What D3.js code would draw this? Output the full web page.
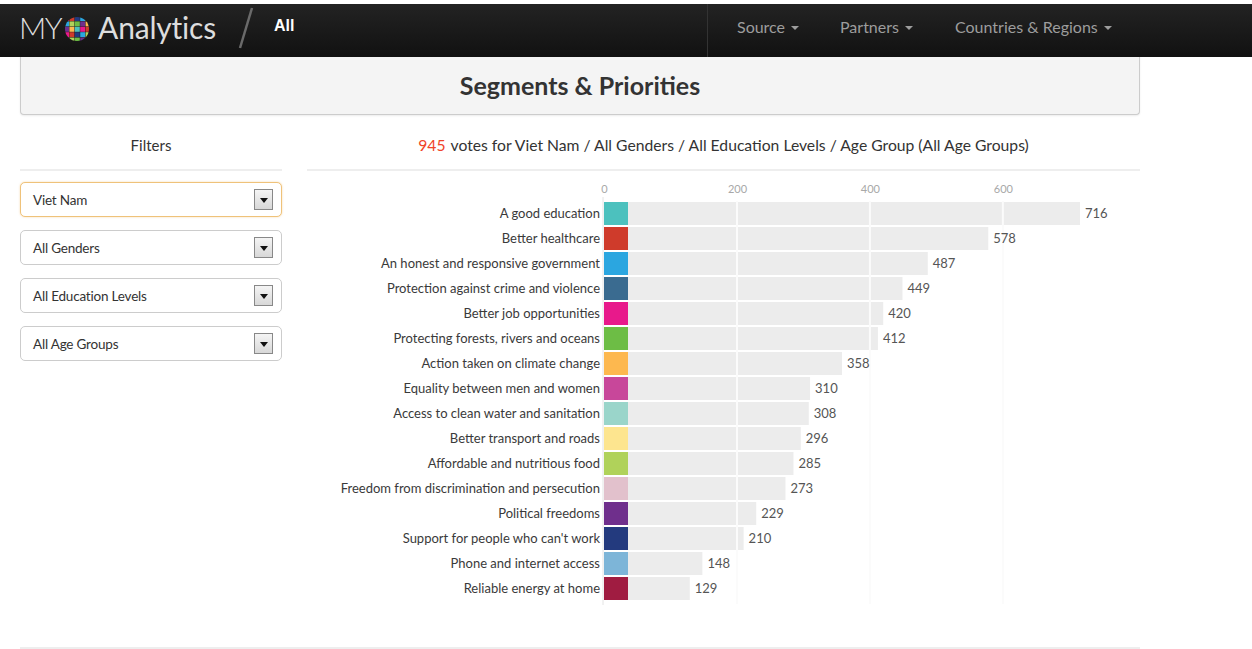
<!DOCTYPE html>
<html>
<head>
<meta charset="utf-8">
<script src="https://cdn.jsdelivr.net/npm/d3@7"></script>
<style>
  html, body { margin: 0; padding: 0; background: #fff; }
  body { width: 1252px; height: 649px; position: relative; overflow: hidden; font-family: Lato, "Open Sans", sans-serif; color: #333; }
  .navbar { position: absolute; z-index: 5; left: 0; top: 4px; width: 1252px; height: 53px; background: linear-gradient(#232323, #111); }
  .brand { position: absolute; left: 19px; top: 5px; font-size: 30px; color: #ddd; letter-spacing: -0.2px; white-space: nowrap; }
  .brand .my { font-weight: 300; letter-spacing: -1.5px; }
  .brand svg { vertical-align: -3px; margin: 0 8px 0 3px; }
  .crumb { position: absolute; left: 274px; top: 13px; font-size: 16px; font-weight: bold; color: #fff; font-family: "Liberation Sans", Arial, sans-serif; }
  .sep { position: absolute; left: 707px; top: 0; width: 1px; height: 53px; background: #333; }
  .nav { position: absolute; top: 13px; font-size: 16px; color: #9d9d9d; }
  .caret { display: inline-block; width: 0; height: 0; margin-left: 6px; vertical-align: 3px; border-left: 4px solid transparent; border-right: 4px solid transparent; border-top: 4px solid #9d9d9d; }
  .panel { position: absolute; left: 20px; top: 50px; width: 1118px; height: 64px; background: #f4f4f4; border: 1px solid #ccc; border-top: none; border-radius: 0 0 4px 4px; box-shadow: 0 1px 2px rgba(0,0,0,0.08); }
  .panel h1 { margin: 0; position: absolute; left: 0; right: 0; top: 20px; text-align: center; font-size: 25px; font-weight: bold; color: #333; }
  .filters-title { position: absolute; left: 20px; width: 262px; top: 136px; text-align: center; font-size: 15px; }
  .votes-title { position: absolute; left: 307px; width: 833px; top: 136px; text-align: center; font-size: 15.7px; }
  .votes-title .n { color: #f0442a; margin-right: 5px; }
  .rule { position: absolute; height: 1px; background: #eee; }
  .select { position: absolute; left: 20px; width: 260px; height: 33px; border: 1px solid #ccc; border-radius: 5px; background: #fff; box-sizing: content-box; }
  .select.focus { border-color: #efc27a; box-shadow: 0 0 2px rgba(240,173,78,0.5); }
  .select span { position: absolute; left: 12px; top: 9px; font-size: 13.5px; color: #333; letter-spacing: -0.2px; }
  .select .btn { position: absolute; right: 8px; top: 6px; width: 17px; height: 19px; border: 1px solid #888; background: linear-gradient(#f4f4f4, #d8d8d8); }
  .select .btn::after { content: ""; position: absolute; left: 5px; top: 8px; border-left: 4px solid transparent; border-right: 4px solid transparent; border-top: 5px solid #111; }
  #chart { position: absolute; left: 0; top: 0; }
</style>
</head>
<body>
<div class="navbar">
  <div class="brand"><span class="my">MY</span><svg id="globe" width="26" height="26"></svg>Analytics</div>
  <svg style="position:absolute;left:0;top:0" width="300" height="53">
    <line x1="252" y1="4" x2="240" y2="44" stroke="#6a6a6a" stroke-width="2.5"></line>
  </svg>
  <div class="crumb">All</div>
  <div class="sep"></div>
  <div class="nav" style="left:737px">Source<span class="caret"></span></div>
  <div class="nav" style="left:840px">Partners<span class="caret"></span></div>
  <div class="nav" style="left:955px">Countries &amp; Regions<span class="caret"></span></div>
</div>
<div class="panel"><h1>Segments &amp; Priorities</h1></div>

<div class="filters-title">Filters</div>
<div class="votes-title"><span class="n" id="total"></span>votes for Viet Nam / All Genders / All Education Levels / Age Group (All Age Groups)</div>
<div class="rule" style="left:20px;width:262px;top:169px;height:2px"></div>
<div class="rule" style="left:307px;width:833px;top:169px;height:2px"></div>
<div class="rule" style="left:20px;width:1120px;top:647px;height:2px"></div>

<div class="select focus" style="top:182px"><span>Viet Nam</span><div class="btn"></div></div>
<div class="select" style="top:230px"><span>All Genders</span><div class="btn"></div></div>
<div class="select" style="top:278px"><span>All Education Levels</span><div class="btn"></div></div>
<div class="select" style="top:326px"><span>All Age Groups</span><div class="btn"></div></div>

<svg id="chart" width="1252" height="649"></svg>

<script>
// data
const totalVotes = 945;

const categories = [
    "A good education",
    "Better healthcare",
    "An honest and responsive government",
    "Protection against crime and violence",
    "Better job opportunities",
    "Protecting forests, rivers and oceans",
    "Action taken on climate change",
    "Equality between men and women",
    "Access to clean water and sanitation",
    "Better transport and roads",
    "Affordable and nutritious food",
    "Freedom from discrimination and persecution",
    "Political freedoms",
    "Support for people who can't work",
    "Phone and internet access",
    "Reliable energy at home"
];

const votes = [716, 578, 487, 449, 420, 412, 358, 310, 308, 296, 285, 273, 229, 210, 148, 129];

const tickValues = [0, 200, 400, 600];

// MY World priority colours
const palette = [
    "#4cc1be", "#cf3b2b", "#2ba6e0", "#3a6b90", "#e8198b", "#6dbd45",
    "#fdb84f", "#c8479a", "#9ad5ca", "#fde58f", "#b0d25a", "#e2c1cc",
    "#6f2f8c", "#233a7e", "#7db5d8", "#a01c41"
];

d3.select('#total').text(totalVotes);

var config = {
    left: 604,
    right: 1080,
    top: 201,
    bottom: 601,
    swatch: 24
};

const data = categories.map((c, i) => ({ label: c, value: votes[i] }));

const svg = d3.select('#chart');

const xscale = d3.scaleLinear()
    .domain([0, d3.max(data, d => d.value)])
    .range([config.left, config.right]);

const yscale = d3.scaleBand()
    .domain(categories)
    .range([config.top, config.bottom])
    .paddingInner(0.08)
    .paddingOuter(0.04);

const color = d3.scaleOrdinal(categories, palette);

// axis on top
const xaxis = d3.axisTop(xscale)
    .tickValues(tickValues)
    .tickSize(0)
    .tickPadding(0);

const xaxis_group = svg.append('g')
    .attr('transform', `translate(0, ${config.top - 8})`)
    .call(xaxis);
xaxis_group.select('.domain').remove();
xaxis_group.selectAll('text')
    .attr('fill', '#a8a8a8')
    .style('font-family', 'Lato, sans-serif')
    .style('font-size', '11px');

// left axis line
svg.append('line')
    .attr('x1', config.left - 1).attr('x2', config.left - 1)
    .attr('y1', config.top - 4).attr('y2', config.bottom + 4)
    .attr('stroke', '#e4e4e4');

// gray bars
svg.append('g').selectAll('rect').data(data).enter()
    .append('rect')
    .attr('x', xscale(0))
    .attr('y', d => yscale(d.label))
    .attr('width', d => xscale(d.value) - xscale(0))
    .attr('height', yscale.bandwidth())
    .attr('fill', '#ececec');

// grid lines over bars
svg.append('g').selectAll('line').data(tickValues.slice(1)).enter()
    .append('line')
    .attr('x1', d => xscale(d)).attr('x2', d => xscale(d))
    .attr('y1', config.top).attr('y2', config.bottom + 3)
    .attr('stroke', '#fbfbfb')
    .attr('stroke-width', 2);

// colour swatches
svg.append('g').selectAll('rect').data(data).enter()
    .append('rect')
    .attr('x', xscale(0))
    .attr('y', d => yscale(d.label))
    .attr('width', config.swatch)
    .attr('height', yscale.bandwidth())
    .attr('fill', d => color(d.label));

// category labels
svg.append('g').selectAll('text').data(data).enter()
    .append('text')
    .attr('x', xscale(0) - 4)
    .attr('y', d => yscale(d.label) + yscale.bandwidth() / 2)
    .attr('dy', '0.35em')
    .attr('text-anchor', 'end')
    .attr('fill', '#3a3a3a')
    .style('font-family', 'Lato, sans-serif')
    .style('font-size', '13px')
    .text(d => d.label);

// value labels
svg.append('g').selectAll('text').data(data).enter()
    .append('text')
    .attr('x', d => xscale(d.value) + 5)
    .attr('y', d => yscale(d.label) + yscale.bandwidth() / 2)
    .attr('dy', '0.35em')
    .attr('fill', '#555')
    .style('font-family', 'Lato, sans-serif')
    .style('font-size', '13px')
    .text(d => d.value);

// little globe in the logo
const globe = d3.select('#globe');
const gcols = ["#e8198b", "#fdb84f", "#6dbd45", "#2ba6e0", "#cf3b2b", "#4cc1be", "#6f2f8c", "#b0d25a", "#233a7e"];
globe.append('clipPath').attr('id', 'gclip')
    .append('circle').attr('cx', 13).attr('cy', 13).attr('r', 12);
const gg = globe.append('g').attr('clip-path', 'url(#gclip)');
d3.range(25).forEach(i => {
    gg.append('rect')
        .attr('x', (i % 5) * 5.4)
        .attr('y', Math.floor(i / 5) * 5.4)
        .attr('width', 5)
        .attr('height', 5)
        .attr('fill', gcols[(i * 4 + Math.floor(i / 5)) % gcols.length]);
});
</script>
</body>
</html>
